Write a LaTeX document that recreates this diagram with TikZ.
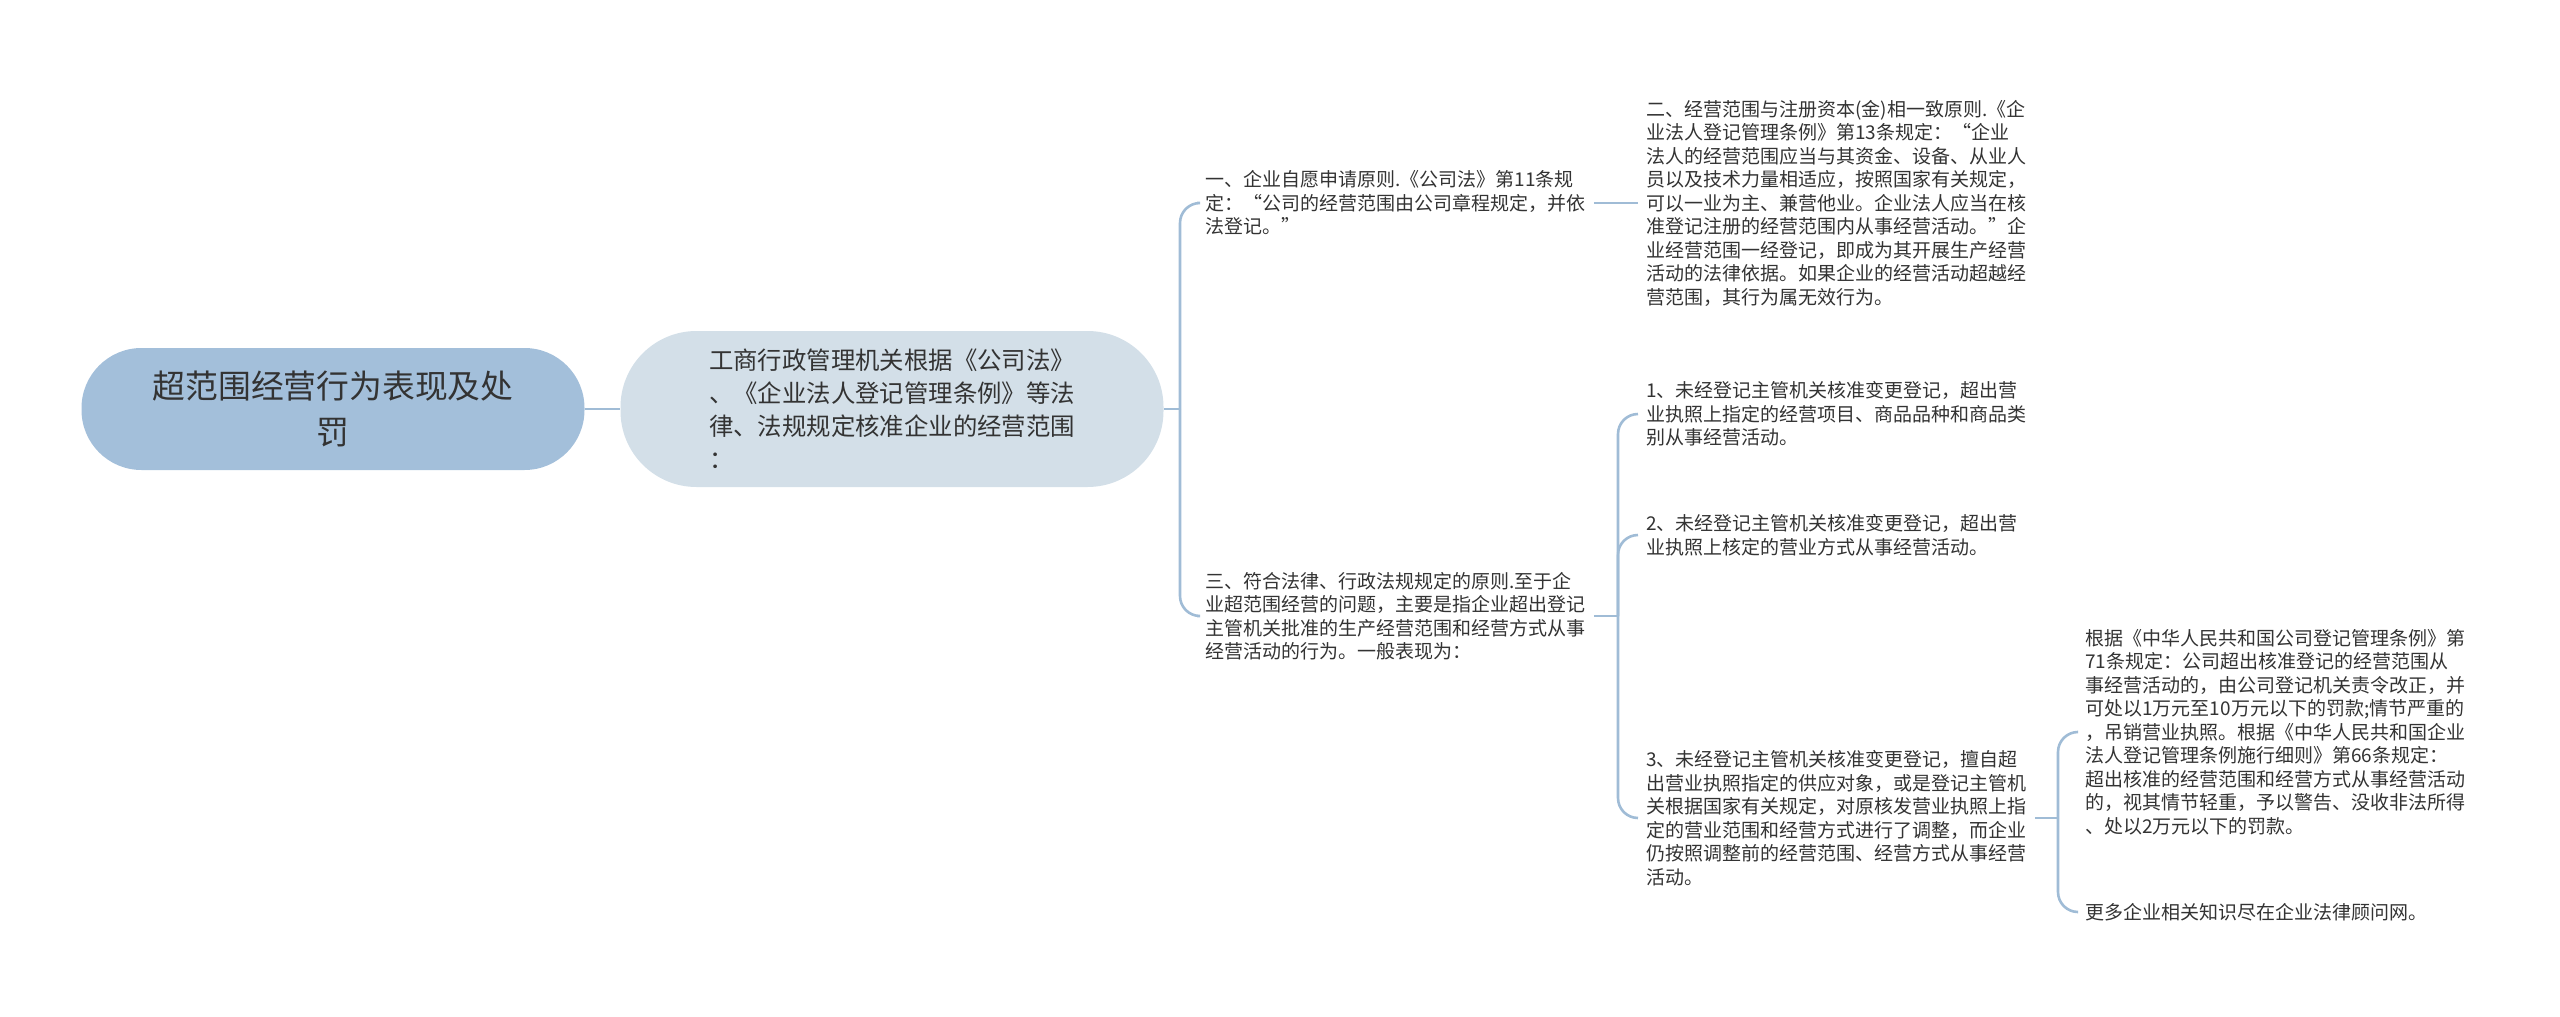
\documentclass[tikz,border=0pt]{standalone}
\usepackage{fontspec}
\setmainfont{Noto Sans CJK SC}
\definecolor{rootblue}{RGB}{163,191,218}
\definecolor{paleblue}{RGB}{211,223,232}
\definecolor{linkblue}{RGB}{160,188,214}
\definecolor{inkgray}{RGB}{51,51,51}

\begin{document}
\begin{tikzpicture}[x=0.5pt, y=-0.5pt,
    rootnode/.style={fill=rootblue, rounded corners=30pt, minimum width=251.5pt, minimum height=61pt, align=center, text=inkgray, font=\fontsize{16.4pt}{23pt}\selectfont},
    mainnode/.style={fill=paleblue, rounded corners=38pt, minimum width=271.5pt, minimum height=78pt, align=left, text=inkgray, font=\fontsize{12.2pt}{16.5pt}\selectfont},
    leaf/.style={anchor=west, align=left, inner xsep=4pt, inner ysep=3pt, text=inkgray, font=\fontsize{9.5pt}{11.75pt}\selectfont},
    link/.style={draw=linkblue, line width=1.3pt},
    bracket/.style={link, rounded corners=10pt}]

    \useasboundingbox (0,0) rectangle (2560,1017);

    \node[rootnode] at (333, 409) (root) {超范围经营行为表现及处\\罚};
    \node[mainnode] at (892, 409) (rule) {工商行政管理机关根据《公司法》\\、《企业法人登记管理条例》等法\\律、法规规定核准企业的经营范围\\：};

    \coordinate (fork1) at (1180, 409);
    \coordinate (fork2) at (1618, 616);
    \coordinate (fork3) at (2058, 818);

    \node[leaf] at (1197, 203) (first) {一、企业自愿申请原则.《公司法》第11条规\\定：“公司的经营范围由公司章程规定，并依\\法登记。”};
    \node[leaf] at (1638, 203) (second) {二、经营范围与注册资本(金)相一致原则.《企\\业法人登记管理条例》第13条规定：“企业\\法人的经营范围应当与其资金、设备、从业人\\员以及技术力量相适应，按照国家有关规定，\\可以一业为主、兼营他业。企业法人应当在核\\准登记注册的经营范围内从事经营活动。”企\\业经营范围一经登记，即成为其开展生产经营\\活动的法律依据。如果企业的经营活动超越经\\营范围，其行为属无效行为。};
    \node[leaf] at (1197, 616) (third) {三、符合法律、行政法规规定的原则.至于企\\业超范围经营的问题，主要是指企业超出登记\\主管机关批准的生产经营范围和经营方式从事\\经营活动的行为。一般表现为：};

    \node[leaf] at (1638, 414) (caseA) {1、未经登记主管机关核准变更登记，超出营\\业执照上指定的经营项目、商品品种和商品类\\别从事经营活动。};
    \node[leaf] at (1638, 535) (caseB) {2、未经登记主管机关核准变更登记，超出营\\业执照上核定的营业方式从事经营活动。};
    \node[leaf] at (1638, 818) (caseC) {3、未经登记主管机关核准变更登记，擅自超\\出营业执照指定的供应对象，或是登记主管机\\关根据国家有关规定，对原核发营业执照上指\\定的营业范围和经营方式进行了调整，而企业\\仍按照调整前的经营范围、经营方式从事经营\\活动。};

    \node[leaf] at (2077, 732) (penalty) {根据《中华人民共和国公司登记管理条例》第\\71条规定：公司超出核准登记的经营范围从\\事经营活动的，由公司登记机关责令改正，并\\可处以1万元至10万元以下的罚款;情节严重的\\，吊销营业执照。根据《中华人民共和国企业\\法人登记管理条例施行细则》第66条规定：\\超出核准的经营范围和经营方式从事经营活动\\的，视其情节轻重，予以警告、没收非法所得\\、处以2万元以下的罚款。};
    \node[leaf] at (2077, 912) (more) {更多企业相关知识尽在企业法律顾问网。};

    \draw[link] (root) -- (rule);
    \draw[link] (rule) -- (fork1);
    \draw[bracket] (fork1) |- (first.west);
    \draw[bracket] (fork1) |- (third.west);
    \draw[link] (first.east) -- (second.west);

    \draw[link] (third.east |- fork2) -- (fork2);
    \draw[bracket] (fork2) |- (caseA.west);
    \draw[bracket] (fork2) |- (caseB.west);
    \draw[bracket] (fork2) |- (caseC.west);

    \draw[link] (caseC.east) -- (fork3);
    \draw[bracket] (fork3) |- (penalty.west);
    \draw[bracket] (fork3) |- (more.west);

\end{tikzpicture}
\end{document}
